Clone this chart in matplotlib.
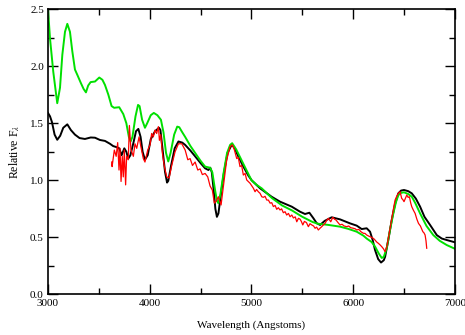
import matplotlib
matplotlib.use("Agg")
import matplotlib.pyplot as plt
from matplotlib.ticker import MultipleLocator

plt.rcParams['font.family'] = ['Liberation Serif', 'DejaVu Serif']
plt.rcParams['mathtext.fontset'] = 'stix'

# model spectrum (green)
green_wl = [3000, 3020, 3052, 3076, 3091, 3118, 3141, 3167, 3190, 3216, 3239, 3265,
            3290, 3324, 3350, 3373, 3395, 3419, 3462, 3504, 3535, 3560, 3593, 3625,
            3650, 3700, 3740, 3770, 3795, 3812, 3830, 3860, 3885, 3900, 3925, 3953,
            3975, 4010, 4040, 4075, 4110, 4135, 4160, 4182, 4205, 4240, 4270, 4290,
            4320, 4348, 4400, 4446, 4500, 4544, 4593, 4615, 4641, 4660, 4674, 4695,
            4725, 4760, 4790, 4810, 4850, 4900, 4950, 5000, 5050, 5100, 5200, 5300,
            5400, 5500, 5600, 5650, 5750, 5870, 5950, 6034, 6100, 6132, 6180, 6214,
            6250, 6280, 6300, 6329, 6360, 6394, 6420, 6443, 6470, 6499, 6540, 6575,
            6610, 6657, 6720, 6787, 6850, 6919, 7000]
green_f = [2.50, 2.24, 1.95, 1.78, 1.675, 1.81, 2.10, 2.30, 2.37, 2.30, 2.13, 1.97,
           1.92, 1.85, 1.80, 1.77, 1.83, 1.86, 1.865, 1.90, 1.88, 1.835, 1.75, 1.65,
           1.635, 1.64, 1.58, 1.50, 1.38, 1.34, 1.38, 1.56, 1.66, 1.65, 1.53, 1.46,
           1.50, 1.57, 1.59, 1.57, 1.53, 1.42, 1.24, 1.165, 1.24, 1.40, 1.47, 1.465,
           1.42, 1.38, 1.30, 1.24, 1.17, 1.12, 1.11, 1.07, 0.92, 0.82, 0.80, 0.88,
           1.06, 1.24, 1.31, 1.325, 1.27, 1.18, 1.09, 1.00, 0.96, 0.93, 0.845, 0.78,
           0.735, 0.68, 0.635, 0.62, 0.61, 0.594, 0.575, 0.55, 0.515, 0.49, 0.46, 0.42,
           0.36, 0.32, 0.33, 0.405, 0.56, 0.71, 0.81, 0.87, 0.89, 0.895, 0.88, 0.857,
           0.80, 0.71, 0.60, 0.52, 0.47, 0.433, 0.40]

# model spectrum (black)
black_wl = [3000, 3020, 3039, 3065, 3091, 3120, 3150, 3190, 3225, 3265, 3310, 3363,
            3420, 3462, 3511, 3560, 3609, 3640, 3675, 3700, 3724, 3750, 3770, 3789,
            3810, 3840, 3865, 3888, 3910, 3930, 3953, 3980, 4010, 4052, 4091, 4105,
            4125, 4150, 4170, 4182, 4210, 4245, 4282, 4320, 4348, 4400, 4446, 4500,
            4544, 4577, 4595, 4610, 4630, 4645, 4660, 4675, 4700, 4730, 4765, 4805,
            4830, 4870, 4920, 4970, 5002, 5084, 5198, 5280, 5396, 5477, 5526, 5569,
            5609, 5640, 5674, 5720, 5788, 5870, 5968, 6034, 6083, 6132, 6165, 6190,
            6214, 6245, 6273, 6300, 6313, 6345, 6378, 6410, 6443, 6470, 6499, 6540,
            6575, 6615, 6657, 6700, 6755, 6821, 6870, 6919, 7000]
black_f = [1.59, 1.56, 1.51, 1.40, 1.355, 1.39, 1.46, 1.49, 1.44, 1.40, 1.37, 1.362,
           1.375, 1.373, 1.353, 1.345, 1.32, 1.30, 1.29, 1.28, 1.22, 1.28, 1.25, 1.19,
           1.22, 1.33, 1.43, 1.45, 1.38, 1.25, 1.18, 1.22, 1.36, 1.43, 1.46, 1.44,
           1.28, 1.075, 0.98, 0.995, 1.13, 1.28, 1.34, 1.33, 1.31, 1.26, 1.21, 1.15,
           1.105, 1.09, 1.11, 1.07, 0.90, 0.75, 0.68, 0.71, 0.88, 1.07, 1.24, 1.31,
           1.29, 1.21, 1.12, 1.04, 1.00, 0.93, 0.856, 0.813, 0.769, 0.725, 0.705, 0.716,
           0.667, 0.625, 0.609, 0.645, 0.676, 0.658, 0.623, 0.603, 0.573, 0.58, 0.55, 0.48,
           0.39, 0.31, 0.28, 0.30, 0.33, 0.48, 0.652, 0.79, 0.886, 0.91, 0.915, 0.905,
           0.886, 0.84, 0.769, 0.68, 0.609, 0.52, 0.49, 0.477, 0.457]

# observed spectrum (red)
red_wl = [3626, 3630, 3652, 3670, 3685, 3698, 3708, 3718, 3730, 3740, 3750, 3763,
          3773, 3789, 3800, 3815, 3839, 3855, 3872, 3895, 3914, 3937, 3953, 3980,
          4003, 4019, 4035, 4052, 4068, 4085, 4095, 4108, 4124, 4144, 4167, 4190,
          4216, 4249, 4282, 4315, 4348, 4374, 4397, 4420, 4446, 4472, 4495, 4517,
          4544, 4570, 4593, 4615, 4635, 4655, 4674, 4701, 4723, 4756, 4789, 4812,
          4832, 4855, 4870, 4887, 4903, 4920, 4937, 4953, 4986, 5019, 5035, 5050,
          5067, 5084, 5101, 5117, 5133, 5150, 5166, 5183, 5199, 5215, 5232, 5248,
          5264, 5280, 5296, 5313, 5330, 5346, 5363, 5379, 5396, 5412, 5430, 5445,
          5461, 5477, 5490, 5504, 5520, 5540, 5559, 5575, 5592, 5610, 5625, 5640,
          5657, 5673, 5690, 5707, 5723, 5740, 5756, 5779, 5799, 5815, 5831, 5850,
          5870, 5890, 5910, 5936, 5955, 5975, 6001, 6020, 6034, 6055, 6075, 6099,
          6115, 6132, 6155, 6181, 6200, 6214, 6230, 6247, 6263, 6280, 6297, 6313,
          6330, 6345, 6362, 6378, 6395, 6411, 6427, 6443, 6460, 6476, 6488, 6499,
          6512, 6526, 6540, 6552, 6565, 6575, 6590, 6608, 6625, 6641, 6660, 6670,
          6684, 6695, 6706, 6715, 6722]
red_f = [1.16, 1.12, 1.265, 1.21, 1.33, 1.09, 1.28, 0.99, 1.21, 1.03, 1.265, 0.96,
         1.21, 1.18, 1.48, 1.27, 1.21, 1.32, 1.28, 1.38, 1.29, 1.19, 1.16, 1.265,
         1.31, 1.41, 1.38, 1.44, 1.41, 1.47, 1.35, 1.40, 1.24, 1.12, 1.03, 1.02,
         1.13, 1.25, 1.32, 1.32, 1.265, 1.18, 1.19, 1.13, 1.16, 1.09, 1.10, 1.05,
         1.06, 1.03, 0.95, 0.915, 0.80, 0.82, 0.856, 0.784, 0.944, 1.178, 1.294, 1.31,
         1.265, 1.19, 1.20, 1.12, 1.13, 1.046, 1.06, 1.003, 0.974, 0.93, 0.90, 0.92,
         0.90, 0.886, 0.856, 0.851, 0.86, 0.827, 0.827, 0.80, 0.804, 0.77, 0.78, 0.746,
         0.76, 0.74, 0.75, 0.716, 0.725, 0.696, 0.71, 0.681, 0.696, 0.67, 0.68, 0.637,
         0.667, 0.66, 0.64, 0.609, 0.64, 0.63, 0.594, 0.62, 0.609, 0.60, 0.58, 0.59,
         0.565, 0.58, 0.594, 0.61, 0.623, 0.65, 0.667, 0.637, 0.676, 0.66, 0.652, 0.63,
         0.609, 0.615, 0.60, 0.594, 0.60, 0.585, 0.58, 0.575, 0.565, 0.57, 0.55, 0.536,
         0.535, 0.521, 0.51, 0.50, 0.49, 0.477, 0.46, 0.448, 0.435, 0.419, 0.40, 0.375,
         0.42, 0.492, 0.58, 0.667, 0.75, 0.827, 0.86, 0.886, 0.90, 0.842, 0.83, 0.813,
         0.84, 0.871, 0.85, 0.856, 0.80, 0.769, 0.74, 0.71, 0.66, 0.623, 0.60, 0.58,
         0.55, 0.54, 0.521, 0.47, 0.405]

fig = plt.figure(figsize=(4.65, 3.35), dpi=100)
ax = fig.add_axes([0.1032, 0.1209, 0.8753, 0.8522])

ax.plot(black_wl, black_f, color='black', lw=1.4)
ax.plot(green_wl, green_f, color='#00e000', lw=1.4)
ax.plot(red_wl, red_f, color='#ff0000', lw=0.9)

ax.set_xlim(3000, 7000)
ax.set_ylim(0.0, 2.5)
ax.xaxis.set_major_locator(MultipleLocator(1000))
ax.xaxis.set_minor_locator(MultipleLocator(500))
ax.yaxis.set_major_locator(MultipleLocator(0.5))
ax.yaxis.set_minor_locator(MultipleLocator(0.25))
ax.yaxis.set_major_formatter(matplotlib.ticker.FormatStrFormatter('%.1f'))
ax.tick_params(which='both', direction='in', top=True, right=True,
               labelsize=8, width=1.0)
ax.tick_params(which='major', length=7, pad=3)
ax.tick_params(which='minor', length=4)
for sp in ax.spines.values():
    sp.set_linewidth(1.2)

ax.set_xlabel('Wavelength (Angstoms)', fontsize=8, labelpad=9)
ax.set_ylabel('Relative F$_\\lambda$', fontsize=8.5, labelpad=6)

fig.savefig('out.png', dpi=100)
